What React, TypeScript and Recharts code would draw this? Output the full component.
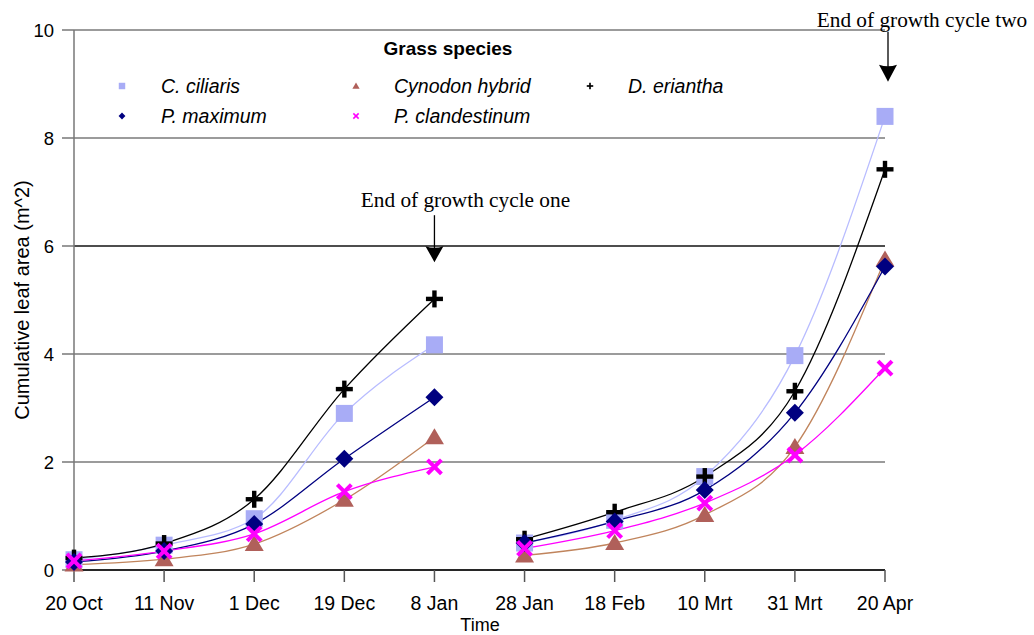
import React from 'react';
import { LineChart, Line, XAxis, YAxis, CartesianGrid, ReferenceLine, ReferenceDot } from 'recharts';

const categories = ['20 Oct', '11 Nov', '1 Dec', '19 Dec', '8 Jan', '28 Jan', '18 Feb', '10 Mrt', '31 Mrt', '20 Apr'];
const speciesNames = ['C. ciliaris', 'Cynodon hybrid', 'D. eriantha', 'P. maximum', 'P. clandestinum'];

const ciliarisCycleOne = [0.19, 0.46, 0.95, 2.9, 4.17];
const ciliarisCycleTwo = [0.5, 0.92, 1.73, 3.97, 8.4];
const cynodonCycleOne = [0.1, 0.2, 0.48, 1.3, 2.46];
const cynodonCycleTwo = [0.27, 0.5, 1.02, 2.28, 5.75];
const erianthaCycleOne = [0.22, 0.49, 1.31, 3.35, 5.02];
const erianthaCycleTwo = [0.57, 1.07, 1.73, 3.31, 7.42];
const maximumCycleOne = [0.15, 0.35, 0.85, 2.06, 3.2];
const maximumCycleTwo = [0.5, 0.9, 1.48, 2.91, 5.62];
const clandestinumCycleOne = [0.17, 0.35, 0.67, 1.45, 1.91];
const clandestinumCycleTwo = [0.4, 0.73, 1.24, 2.13, 3.74];

const yTicks = [0, 2, 4, 6, 8, 10];
const legendTitle = 'Grass species';
const xTitle = 'Time';
const yTitle = 'Cumulative leaf area (m^2)';
const cycleOneNote = 'End of growth cycle one';
const cycleTwoNote = 'End of growth cycle two';
const cycleOneEnd = { x: '8 Jan', y: 5.7 };
const cycleTwoEnd = { x: '20 Apr', y: 9.04 };

const series = [
  { key: 'cc', one: ciliarisCycleOne, two: ciliarisCycleTwo, marker: 'square', markerColor: '#A8ACF6', lineColor: '#B8BCFF' },
  { key: 'cy', one: cynodonCycleOne, two: cynodonCycleTwo, marker: 'triangle', markerColor: '#B0605A', lineColor: '#C0845C' },
  { key: 'de', one: erianthaCycleOne, two: erianthaCycleTwo, marker: 'plus', markerColor: '#000000', lineColor: '#000000' },
  { key: 'pm', one: maximumCycleOne, two: maximumCycleTwo, marker: 'diamond', markerColor: '#000080', lineColor: '#000080' },
  { key: 'pc', one: clandestinumCycleOne, two: clandestinumCycleTwo, marker: 'cross', markerColor: '#FF00FF', lineColor: '#FF00FF' },
];

const data = categories.map((cat, i) => {
  const row: any = { cat };
  series.forEach((s) => {
    row[s.key + '1'] = i < 5 ? s.one[i] : null;
    row[s.key + '2'] = i >= 5 ? s.two[i - 5] : null;
  });
  return row;
});

const SANS = '"Liberation Sans", Arial, sans-serif';
const SERIF = '"Liberation Serif", "Times New Roman", serif';

function Marker({ kind, cx, cy, color, s = 1 }: any) {
  switch (kind) {
    case 'square': {
      const h = 8.5 * s;
      return <rect x={cx - h} y={cy - h} width={2 * h} height={2 * h} fill={color} />;
    }
    case 'triangle':
      return <polygon points={`${cx},${cy - 9 * s} ${cx - 9.5 * s},${cy + 7 * s} ${cx + 9.5 * s},${cy + 7 * s}`} fill={color} />;
    case 'plus': {
      const L = 8.5 * s, w = 2.2 * s;
      return (
        <g fill={color}>
          <rect x={cx - L} y={cy - w} width={2 * L} height={2 * w} />
          <rect x={cx - w} y={cy - L} width={2 * w} height={2 * L} />
        </g>
      );
    }
    case 'diamond': {
      const d = 9 * s;
      return <polygon points={`${cx},${cy - d} ${cx + d},${cy} ${cx},${cy + d} ${cx - d},${cy}`} fill={color} />;
    }
    case 'cross': {
      const c = 7 * s;
      return (
        <g stroke={color} strokeWidth={4 * s}>
          <line x1={cx - c} y1={cy - c} x2={cx + c} y2={cy + c} />
          <line x1={cx - c} y1={cy + c} x2={cx + c} y2={cy - c} />
        </g>
      );
    }
    default:
      return null;
  }
}

const makeDot = (kind: string, color: string, id: string) => (props: any) => {
  const { cx, cy, index } = props;
  if (cx == null || cy == null || isNaN(cx) || isNaN(cy)) return <g key={`${id}-${index}`} />;
  return (
    <g key={`${id}-${index}`}>
      <Marker kind={kind} cx={cx} cy={cy} color={color} />
    </g>
  );
};

const makeArrow = (text: string, lineLen: number, headLen: number, textDx: number, textDy: number, tipDx: number) => (props: any) => {
  const cx = props.cx + tipDx;
  const cy = props.cy;
  const top = cy - headLen;
  return (
    <g>
      <line x1={cx} y1={cy - lineLen} x2={cx} y2={top + 3} stroke="#000" strokeWidth={1.3} />
      <path
        d={`M${cx - 9},${top} Q${cx},${top + 3} ${cx + 9},${top} Q${cx + 3.5},${cy - headLen * 0.4} ${cx},${cy} Q${cx - 3.5},${cy - headLen * 0.4} ${cx - 9},${top} Z`}
        fill="#000"
      />
      <text x={props.cx + textDx} y={cy + textDy} textAnchor="middle" fontFamily={SERIF} fontSize={21.3} fill="#000">
        {text}
      </text>
    </g>
  );
};

const legendMarkerX = [122, 356, 590];
const legendTextX = [161, 394, 628];
const legendRowY = [86, 116];

export default function App() {
  return (
    <div style={{ position: 'absolute', left: 0, top: 0, width: 1034, height: 635, background: '#fff' }}>
      <LineChart width={1034} height={635} data={data} margin={{ top: 30, right: 149, bottom: 0, left: 0 }}>
        <CartesianGrid vertical={false} stroke="#7a7a7a" strokeWidth={1.5} />
        <ReferenceLine y={6} stroke="#000" strokeWidth={1.1} />
        <XAxis
          dataKey="cat"
          height={65}
          interval={0}
          tickSize={12}
          tickMargin={14}
          axisLine={{ stroke: '#000', strokeWidth: 1.5 }}
          tickLine={{ stroke: '#555', strokeWidth: 1.5 }}
          tick={{ fontSize: 19.5, fill: '#000', fontFamily: SANS }}
        />
        <YAxis
          width={74}
          domain={[0, 10]}
          ticks={yTicks}
          interval={0}
          tickSize={12}
          tickMargin={8}
          axisLine={{ stroke: '#777', strokeWidth: 1.5 }}
          tickLine={{ stroke: '#777', strokeWidth: 1.5 }}
          tick={{ fontSize: 18.5, fill: '#000', fontFamily: SANS }}
        />
        {series.flatMap((s) =>
          ['1', '2'].map((c) => (
            <Line
              key={s.key + c}
              dataKey={s.key + c}
              type="monotone"
              stroke={s.lineColor}
              strokeWidth={1.3}
              dot={makeDot(s.marker, s.markerColor, s.key + c)}
              activeDot={false}
              connectNulls={false}
              isAnimationActive={false}
            />
          ))
        )}
        <ReferenceDot x={cycleOneEnd.x} y={cycleOneEnd.y} r={0} shape={makeArrow(cycleOneNote, 47, 16, 31, -55, 0)} />
        <ReferenceDot x={cycleTwoEnd.x} y={cycleTwoEnd.y} r={0} shape={makeArrow(cycleTwoNote, 50, 17, 37, -55, 3)} />
      </LineChart>
      <svg width={1034} height={635} style={{ position: 'absolute', left: 0, top: 0, pointerEvents: 'none' }}>
        <text x={448} y={48} dy="0.35em" textAnchor="middle" fontFamily={SANS} fontWeight="bold" fontSize={19} fill="#000">
          {legendTitle}
        </text>
        {speciesNames.map((name, i) => {
          const col = i % 3;
          const row = Math.floor(i / 3);
          const s = series[i];
          return (
            <g key={name}>
              <Marker kind={s.marker} cx={legendMarkerX[col]} cy={legendRowY[row]} color={s.markerColor} s={0.38} />
              <text x={legendTextX[col]} y={legendRowY[row]} dy="0.35em" fontFamily={SANS} fontStyle="italic" fontSize={19.5} fill="#000">
                {name}
              </text>
            </g>
          );
        })}
        <text x={22} y={300} dy="0.35em" transform="rotate(-90 22 300)" textAnchor="middle" fontFamily={SANS} fontSize={20} fill="#000">
          {yTitle}
        </text>
        <text x={480} y={631} textAnchor="middle" fontFamily={SANS} fontSize={18} fill="#000">
          {xTitle}
        </text>
      </svg>
    </div>
  );
}
